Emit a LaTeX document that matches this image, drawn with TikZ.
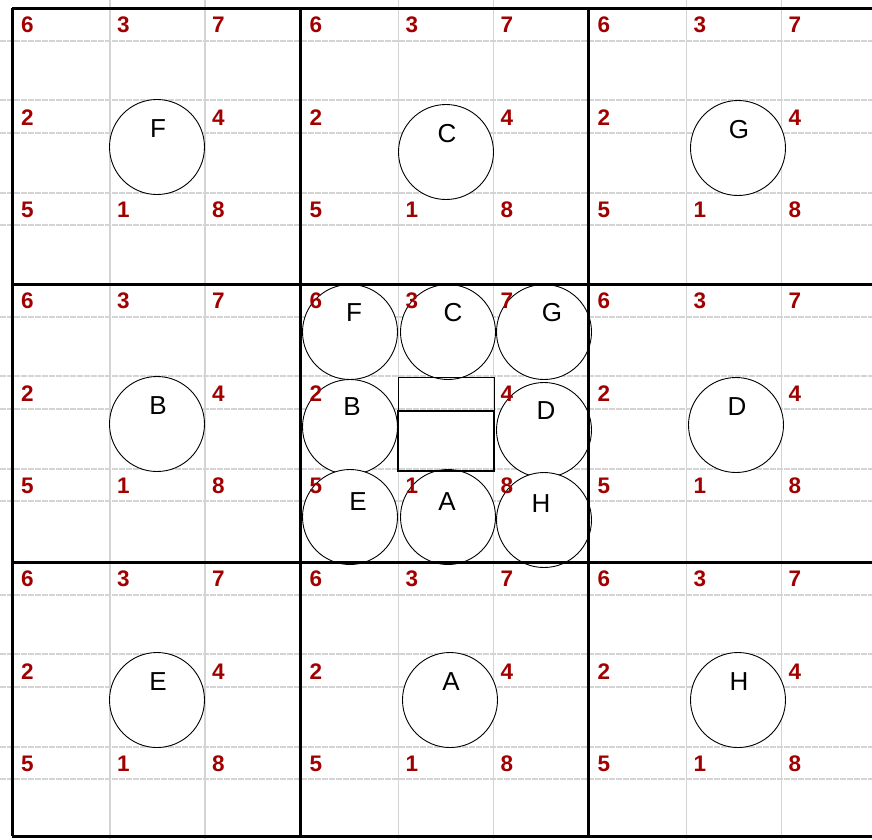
\documentclass[tikz,border=0pt]{standalone}
\usepackage{fontspec}
\setmainfont{Liberation Sans}
\usepackage{xcolor}
\usetikzlibrary{positioning,calc}

\definecolor{slotred}{RGB}{160,0,0}
\definecolor{faintgray}{RGB}{212,212,212}

\begin{document}
\begin{tikzpicture}[x=1pt, y=-1pt, every node/.style={inner sep=0pt},
    faintv/.style={faintgray, line width=1.2pt},
    fainth/.style={faintgray, line width=1.2pt, dash pattern=on 6pt off 1pt},
    wall/.style={black, line width=3pt},
    slotnum/.style={text=slotred, font=\fontsize{22.5}{22.5}\selectfont\bfseries, anchor=west},
    disc/.style={circle, draw, fill=white, line width=0.9pt, minimum size=95pt},
    tag/.style={font=\fontsize{26}{26}\selectfont}]
  \useasboundingbox (0,0) rectangle (872,839);
  \clip (0,0) rectangle (872,839);
  \fill[white] (0,0) rectangle (872,839);

  % light guide lines
  \foreach \ox in {12,300.5,588.5} {
    \foreach \dx in {98,193}
      \draw[faintv] (\ox+\dx,0) -- (\ox+\dx,839);
  }
  \foreach \oy in {8,284,562} {
    \foreach \dy in {33,92,125,185,217}
      \draw[fainth] (0,\oy+\dy) -- (872,\oy+\dy);
  }

  % one ball in each outer cell
  \foreach \b/\bx/\by in {F/157/147, C/446/152, G/738/148, B/157/424,
                          D/736/425, E/157/700, A/450/700, H/738/700} {
    \node[disc] (out\b) at (\bx,\by) {};
    \node[tag] (out\b-tag) at (\bx+1,\by-18) {\b};
  }

  % eight balls round the middle cell
  \foreach \b/\bx/\by/\lx/\ly in {F/350/332/354/313, C/448/332/453/313,
        G/544/332/552/313, B/350/427/352/407, D/544/430/546/411,
        E/350/517/358/502, A/448/517/447/502, H/544/520/541/504} {
    \node[disc] (mid\b) at (\bx,\by) {};
    \node[tag] (mid\b-tag) at (\lx,\ly) {\b};
  }

  % slot numbers
  \foreach \ox [count=\i] in {12,300.5,588.5} {
    \foreach \oy [count=\j] in {8,284,562} {
      \foreach \n/\dx/\dy in {6/9/17, 3/105/17, 7/200/17, 2/9/110,
                              4/200/110, 5/9/202, 1/105/202, 8/200/202}
        \node[slotnum] (slot\i\j-\n) at (\ox+\dx,\oy+\dy) {\n};
    }
  }

  % cell walls
  \foreach \ox in {12,300.5,588.5}
    \draw[wall] (\ox,8) -- (\ox,836);
  \foreach \oy in {8,284,562,836}
    \draw[wall] (12,\oy) -- (880,\oy);

  % block in the middle
  \node[draw, line width=1pt, minimum width=96pt, minimum height=94pt] (lid) at (446,424) {};
  \node[draw, line width=2.5pt, minimum width=96pt, minimum height=60pt] (block) at (446,441) {};
\end{tikzpicture}
\end{document}
